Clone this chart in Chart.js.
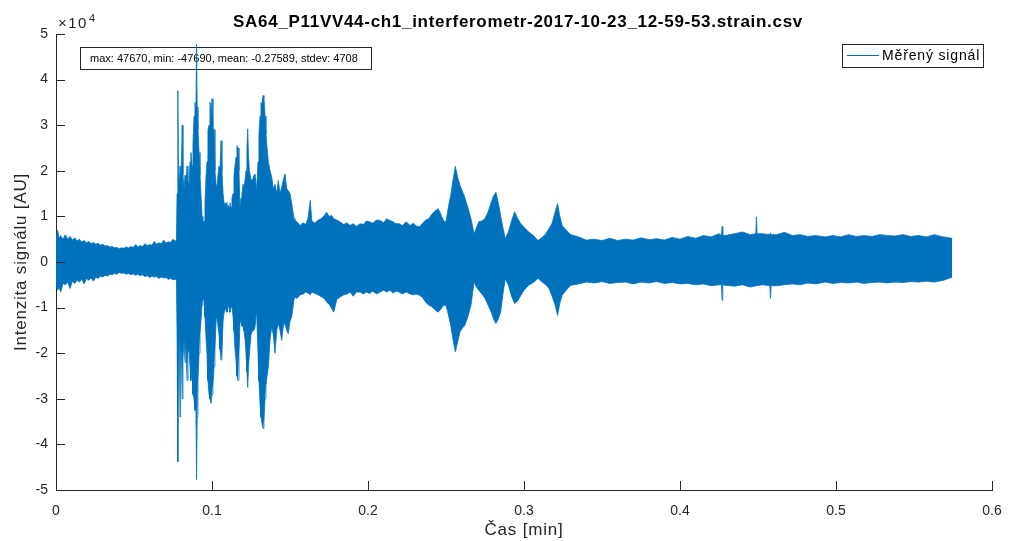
<!DOCTYPE html>
<html><head><meta charset="utf-8">
<script src="https://cdn.jsdelivr.net/npm/chart.js@4/dist/chart.umd.min.js"></script>
<style>html,body{margin:0;padding:0;background:#fff}#wrap{width:1011px;height:541px}</style>
</head><body><div id="wrap"><canvas id="c" width="1011" height="541"></canvas></div>
<script>
const titleText = "SA64_P11VV44-ch1_interferometr-2017-10-23_12-59-53.strain.csv";
const xAxisLabel = "Čas [min]";
const yAxisLabel = "Intenzita signálu [AU]";
const seriesName = "Měřený signál";
const statsText = "max: 47670, min: -47690, mean: -0.27589, stdev: 4708";
const xTicks = [0, 0.1, 0.2, 0.3, 0.4, 0.5, 0.6];
const yTicks = [-5, -4, -3, -2, -1, 0, 1, 2, 3, 4, 5];
const yExponent = 4;

const timeMin = [
0.0000,0.0010,0.0020,0.0030,0.0045,0.0060,0.0075,0.0090,0.0105,0.0120,0.0135,0.0150,0.0165,0.0180,0.0195,0.0210,0.0225,0.0240,0.0255,0.0270,
0.0285,0.0300,0.0315,0.0330,0.0345,0.0360,0.0375,0.0390,0.0405,0.0420,0.0435,0.0450,0.0465,0.0480,0.0495,0.0510,0.0525,0.0540,0.0555,0.0570,
0.0585,0.0600,0.0615,0.0630,0.0645,0.0660,0.0675,0.0690,0.0705,0.0720,0.0735,0.0750,0.0765,
0.0772,0.0776,0.0781,0.0785,0.0790,0.0795,0.0799,0.0804,0.0809,0.0814,0.0821,0.0827,0.0833,0.0840,0.0846,0.0853,0.0859,0.0865,0.0872,0.0878,
0.0885,0.0891,0.0897,0.0901,0.0905,0.0910,0.0917,0.0923,0.0929,0.0936,0.0942,0.0949,0.0955,0.0962,0.0968,0.0974,0.0981,0.0987,0.0994,0.1000,
0.1006,0.1013,0.1019,0.1026,0.1032,0.1038,0.1045,0.1051,0.1058,0.1064,0.1071,0.1077,0.1083,0.1090,0.1096,0.1103,0.1109,0.1115,0.1122,0.1128,
0.1135,0.1141,0.1147,0.1154,0.1160,0.1167,0.1173,0.1179,0.1186,0.1192,0.1199,0.1205,0.1212,0.1218,0.1224,0.1229,0.1234,0.1240,0.1250,0.1260,
0.1269,0.1276,0.1286,0.1295,0.1301,0.1308,0.1314,0.1321,0.1327,0.1333,0.1340,0.1346,0.1353,0.1361,0.1372,0.1383,0.1393,0.1404,0.1415,0.1425,
0.1436,0.1447,0.1457,0.1468,0.1479,0.1489,0.1500,0.1511,0.1519,0.1526,0.1532,
0.1545,0.1565,0.1585,0.1600,0.1615,0.1630,0.1640,0.1660,0.1680,0.1700,0.1720,0.1735,0.1750,0.1767,0.1780,0.1800,0.1820,0.1845,0.1865,0.1885,
0.1905,0.1925,0.1950,0.1970,0.1990,0.2010,0.2030,0.2055,0.2077,0.2100,0.2120,0.2140,0.2160,0.2180,0.2200,0.2220,0.2245,0.2270,0.2290,0.2310,
0.2330,0.2350,0.2370,0.2390,0.2410,0.2430,0.2450,0.2470,0.2485,0.2500,0.2515,0.2530,0.2545,0.2560,0.2575,0.2590,0.2605,0.2620,0.2640,0.2660,
0.2680,0.2695,0.2710,0.2730,0.2750,0.2770,0.2790,0.2805,0.2820,0.2835,0.2850,0.2865,0.2880,0.2900,0.2920,0.2940,0.2960,0.2980,0.3000,0.3030,
0.3060,0.3090,0.3120,0.3140,0.3160,0.3180,0.3200,0.3215,0.3230,0.3245,0.3270,0.3300,
0.3350,0.3400,0.3450,0.3500,0.3550,0.3600,0.3650,0.3700,0.3750,0.3800,0.3850,0.3900,0.3950,0.4000,0.4050,0.4100,0.4150,0.4200,0.4250,0.4266,
0.4270,0.4274,0.4290,0.4350,0.4400,0.4450,0.4486,0.4490,0.4494,0.4530,0.4576,0.4580,0.4584,0.4620,0.4670,0.4720,0.4770,0.4820,0.4870,0.4930,
0.4980,0.5030,0.5080,0.5130,0.5180,0.5230,0.5280,0.5330,0.5380,0.5430,0.5480,0.5530,0.5580,0.5630,0.5690,0.5745];
const upperEnv = [
0.55,0.69,0.52,0.58,0.50,0.60,0.50,0.56,0.48,0.53,0.46,0.50,0.44,0.47,0.42,0.45,0.40,0.43,0.39,0.41,
0.37,0.39,0.35,0.36,0.33,0.34,0.31,0.32,0.29,0.31,0.30,0.33,0.31,0.34,0.32,0.38,0.33,0.36,0.34,0.40,
0.36,0.38,0.37,0.45,0.39,0.42,0.40,0.48,0.42,0.44,0.43,0.50,0.45,
0.50,1.50,3.76,2.00,1.70,2.10,1.80,2.20,3.00,1.90,1.60,1.90,1.70,2.10,1.80,1.70,2.20,2.40,2.10,2.60,
3.20,3.50,3.30,4.77,3.40,2.90,2.40,1.90,1.50,1.00,0.85,0.90,1.30,1.90,2.20,2.90,3.00,3.50,3.20,3.58,
2.95,2.90,2.00,1.70,1.60,1.90,2.10,2.00,2.66,2.00,1.50,1.30,1.20,1.30,1.15,1.25,1.20,1.30,1.20,1.40,
1.50,1.90,2.10,2.30,2.55,2.50,2.00,1.20,1.40,1.50,1.70,1.60,1.80,2.00,2.50,2.92,2.30,2.00,1.80,1.80,
1.90,1.93,1.57,2.20,2.80,3.20,3.50,3.45,3.65,3.60,3.20,2.80,2.50,2.20,2.00,1.86,1.60,1.70,1.50,1.79,
1.50,1.64,1.80,1.93,1.60,1.57,1.50,1.28,1.10,0.95,0.91,
0.88,0.80,0.86,0.82,0.95,1.35,0.90,0.85,0.92,0.95,1.02,1.09,1.00,1.02,0.95,0.92,0.88,0.82,0.86,0.80,
0.84,0.78,0.84,0.82,0.90,0.88,0.85,0.92,0.91,0.86,0.95,0.91,0.88,0.84,0.84,0.80,0.88,0.80,0.85,0.79,
0.77,0.85,0.92,0.95,1.05,1.12,1.17,1.02,0.90,0.88,1.20,1.46,1.80,2.10,1.85,1.68,1.55,1.42,1.20,0.95,
0.62,0.75,0.88,0.90,0.95,1.10,1.31,1.45,1.53,1.30,1.02,0.75,0.51,0.66,0.90,1.10,0.95,0.84,0.76,0.66,
0.58,0.47,0.55,0.62,0.73,0.85,1.10,1.28,1.00,0.80,0.70,0.60,
0.55,0.48,0.50,0.47,0.52,0.47,0.50,0.48,0.53,0.49,0.51,0.48,0.54,0.50,0.56,0.52,0.58,0.55,0.62,0.58,
0.78,0.58,0.58,0.62,0.66,0.60,0.62,0.99,0.62,0.62,0.60,0.64,0.60,0.60,0.65,0.58,0.60,0.56,0.58,0.55,
0.58,0.55,0.60,0.56,0.58,0.56,0.60,0.58,0.57,0.60,0.56,0.58,0.55,0.60,0.55,0.52];
const lowerEnv = [
-0.50,-0.62,-0.55,-0.66,-0.47,-0.50,-0.44,-0.58,-0.42,-0.47,-0.40,-0.44,-0.38,-0.48,-0.36,-0.40,-0.35,-0.42,-0.33,-0.36,
-0.31,-0.33,-0.29,-0.31,-0.27,-0.28,-0.25,-0.27,-0.23,-0.25,-0.24,-0.27,-0.25,-0.28,-0.26,-0.29,-0.27,-0.30,-0.28,-0.32,
-0.30,-0.34,-0.31,-0.33,-0.32,-0.36,-0.33,-0.35,-0.34,-0.38,-0.36,-0.39,-0.38,
-0.40,-1.60,-4.38,-2.10,-1.60,-3.40,-1.90,-2.00,-3.00,-2.10,-1.70,-2.20,-1.80,-2.60,-2.00,-1.90,-2.30,-2.60,-2.30,-2.90,
-3.00,-3.25,-3.20,-4.77,-3.40,-2.60,-2.00,-1.60,-1.30,-0.95,-0.84,-0.80,-1.20,-1.70,-2.00,-2.60,-2.90,-3.00,-3.10,-2.90,
-2.70,-2.30,-1.90,-1.30,-1.20,-1.40,-1.60,-1.90,-2.15,-2.00,-1.30,-1.10,-1.06,-1.00,-1.10,-1.00,-0.95,-1.10,-0.90,-1.00,
-1.20,-1.50,-1.90,-2.15,-2.50,-2.60,-2.00,-1.35,-1.30,-1.40,-1.42,-1.50,-1.70,-2.00,-2.40,-2.75,-2.30,-2.00,-1.60,-1.50,
-1.50,-1.42,-1.06,-2.00,-2.60,-3.10,-3.40,-3.55,-3.65,-3.50,-3.00,-2.70,-2.50,-2.30,-1.70,-1.42,-1.60,-2.00,-1.50,-1.35,
-1.50,-1.72,-1.40,-1.35,-1.50,-1.57,-1.30,-1.20,-1.00,-0.80,-0.77,
-0.80,-0.72,-0.70,-0.66,-0.68,-0.72,-0.66,-0.69,-0.72,-0.76,-0.80,-0.88,-0.92,-1.02,-1.10,-0.82,-0.77,-0.72,-0.70,-0.66,
-0.75,-0.66,-0.66,-0.70,-0.66,-0.69,-0.64,-0.70,-0.66,-0.62,-0.66,-0.62,-0.68,-0.64,-0.66,-0.70,-0.66,-0.70,-0.72,-0.70,
-0.73,-0.78,-0.88,-0.95,-0.98,-1.05,-1.10,-1.02,-0.95,-0.95,-1.15,-1.39,-1.70,-1.97,-1.75,-1.53,-1.45,-1.39,-1.20,-0.95,
-0.44,-0.55,-0.62,-0.70,-0.80,-0.95,-1.10,-1.25,-1.35,-1.25,-1.10,-0.70,-0.36,-0.51,-0.75,-0.91,-0.85,-0.73,-0.62,-0.51,
-0.45,-0.36,-0.45,-0.50,-0.58,-0.75,-0.95,-1.17,-0.90,-0.73,-0.62,-0.51,
-0.48,-0.44,-0.46,-0.43,-0.47,-0.45,-0.44,-0.48,-0.44,-0.46,-0.43,-0.47,-0.45,-0.48,-0.47,-0.50,-0.48,-0.52,-0.50,-0.50,
-0.84,-0.50,-0.51,-0.53,-0.50,-0.55,-0.52,-0.52,-0.52,-0.50,-0.52,-0.80,-0.52,-0.52,-0.50,-0.48,-0.50,-0.46,-0.48,-0.44,
-0.47,-0.45,-0.46,-0.44,-0.47,-0.45,-0.44,-0.46,-0.44,-0.45,-0.43,-0.44,-0.42,-0.44,-0.40,-0.33];

const BLUE = '#0072BD';
const AX = '#262626';
const FONT = '"Liberation Sans", Arial, Helvetica, sans-serif';
const scaleY = Math.pow(10, yExponent);

function spaced(ctx, px) { try { ctx.letterSpacing = px + 'px'; } catch (e) {} }

const decor = {
  id: 'decor',
  beforeDatasetsDraw(chart) {
    const ctx = chart.ctx;
    ctx.save();
    ctx.strokeStyle = AX; ctx.lineWidth = 1;
    ctx.strokeRect(80.5, 47.5, 291, 22);
    ctx.fillStyle = '#000';
    ctx.font = '11px ' + FONT;
    ctx.textBaseline = 'middle'; ctx.textAlign = 'left';
    ctx.fillText(statsText, 90, 58.5);
    ctx.restore();
  },
  afterDatasetsDraw(chart) {
    const ctx = chart.ctx;
    const a = chart.chartArea;
    const xs = chart.scales.x, ys = chart.scales.y;
    ctx.save();
    ctx.strokeStyle = AX; ctx.lineWidth = 1;
    ctx.beginPath();
    xTicks.forEach(v => { const px = Math.round(xs.getPixelForValue(v)) + 0.5; ctx.moveTo(px, a.bottom); ctx.lineTo(px, a.bottom - 9); });
    yTicks.forEach(v => { const py = Math.round(ys.getPixelForValue(v * scaleY)) + 0.5; ctx.moveTo(a.left, py); ctx.lineTo(a.left + 9, py); });
    ctx.stroke();
    // legend
    ctx.fillStyle = '#fff';
    ctx.fillRect(842, 44, 142, 24);
    ctx.strokeStyle = AX;
    ctx.strokeRect(842.5, 44.5, 141, 23);
    ctx.strokeStyle = BLUE; ctx.lineWidth = 1;
    ctx.beginPath(); ctx.moveTo(847, 55.5); ctx.lineTo(879, 55.5); ctx.stroke();
    ctx.fillStyle = '#000';
    ctx.font = '14px ' + FONT;
    spaced(ctx, 0.85);
    ctx.textBaseline = 'middle'; ctx.textAlign = 'left';
    ctx.fillText(seriesName, 882, 56.5);
    // title
    ctx.font = 'bold 17px ' + FONT;
    spaced(ctx, 0.7);
    ctx.textAlign = 'center'; ctx.textBaseline = 'alphabetic';
    ctx.fillText(titleText, 518, 27);
    // exponent
    ctx.fillStyle = AX;
    ctx.textAlign = 'left';
    ctx.font = '15px ' + FONT;
    spaced(ctx, 1.5);
    ctx.fillText('×10', 58, 28);
    const w = ctx.measureText('×10').width;
    ctx.font = '11px ' + FONT;
    spaced(ctx, 0);
    ctx.fillText(String(yExponent), 58 + w + 1, 22);
    // axis labels
    ctx.font = '17px ' + FONT;
    spaced(ctx, 0.8);
    ctx.textAlign = 'center'; ctx.textBaseline = 'middle';
    ctx.fillText(xAxisLabel, (a.left + a.right) / 2, 530);
    ctx.translate(21, (a.top + a.bottom) / 2);
    ctx.rotate(-Math.PI / 2);
    ctx.fillText(yAxisLabel, 0, 0);
    ctx.restore();
  }
};

const upperPts = timeMin.map((t, i) => ({ x: t, y: upperEnv[i] * scaleY }));
const lowerPts = timeMin.map((t, i) => ({ x: t, y: lowerEnv[i] * scaleY }));

new Chart(document.getElementById('c'), {
  type: 'line',
  data: {
    datasets: [
      { label: seriesName, data: upperPts, borderColor: BLUE, backgroundColor: BLUE, borderWidth: 0.8, pointRadius: 0, tension: 0, fill: '+1' },
      { label: seriesName + ' (min)', data: lowerPts, borderColor: BLUE, backgroundColor: BLUE, borderWidth: 0.8, pointRadius: 0, tension: 0, fill: false }
    ]
  },
  options: {
    responsive: false, animation: false, devicePixelRatio: 1,
    layout: { padding: { top: 34, right: 19, left: 0, bottom: 0 } },
    plugins: { legend: { display: false }, title: { display: false }, tooltip: { enabled: false } },
    scales: {
      x: {
        type: 'linear', min: 0, max: 0.6,
        afterBuildTicks: s => { s.ticks = xTicks.map(v => ({ value: v })); },
        afterFit: s => { s.height = 51; s.paddingLeft = 0; s.paddingRight = 0; },
        grid: { display: false, drawTicks: false },
        border: { display: true, color: AX, width: 1 },
        ticks: { padding: 13, color: AX, font: { family: FONT, size: 14 }, maxRotation: 0, autoSkip: false,
          callback: v => String(+v.toFixed(1)) }
      },
      y: {
        type: 'linear', min: -5 * scaleY, max: 5 * scaleY,
        afterBuildTicks: s => { s.ticks = yTicks.map(v => ({ value: v * scaleY })); },
        afterFit: s => { s.width = 56; s.paddingTop = 0; s.paddingBottom = 0; },
        grid: { display: false, drawTicks: false },
        border: { display: true, color: AX, width: 1 },
        ticks: { padding: 8, color: AX, font: { family: FONT, size: 14 }, autoSkip: false,
          callback: v => String(Math.round(v / scaleY)) }
      }
    }
  },
  plugins: [decor]
});
</script>
</body></html>
